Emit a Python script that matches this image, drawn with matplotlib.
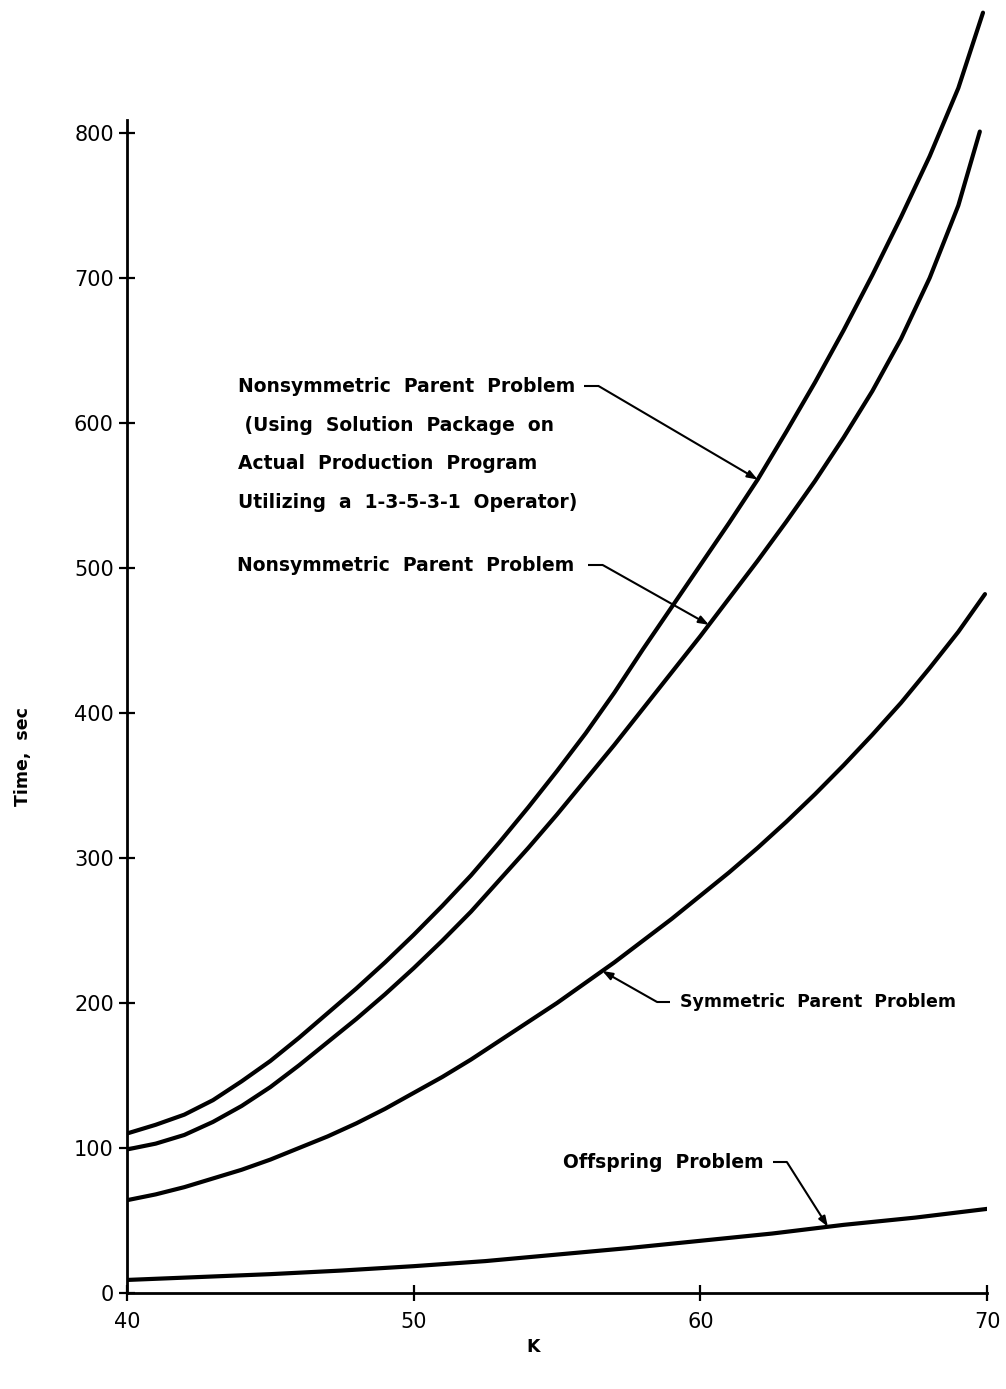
import numpy as np
import matplotlib
matplotlib.use("Agg")
import matplotlib.pyplot as plt

# values (K vs time in seconds)
k_prod = [40, 41, 42, 43, 44, 45, 46, 47, 48, 49, 50, 51, 52, 53, 54, 55,
          56, 57, 58, 59, 60, 61, 62, 63, 64, 65, 66, 67, 68, 69, 69.86]
t_prod = [110, 116, 123, 133, 146, 160, 176, 193, 210, 228, 247, 267, 288, 311, 335, 360,
          386, 414, 444, 473, 502, 531, 561, 594, 628, 664, 702, 742, 784, 831, 883]

k_nonsym = [40, 41, 42, 43, 44, 45, 46, 47, 48, 49, 50, 51, 52, 53, 54, 55,
            56, 57, 58, 59, 60, 61, 62, 63, 64, 65, 66, 67, 68, 69, 69.75]
t_nonsym = [99, 103, 109, 118, 129, 142, 157, 173, 189, 206, 224, 243, 263, 285, 307, 330,
            354, 378, 403, 428, 453, 479, 505, 532, 560, 590, 622, 658, 700, 750, 801]

k_sym = [40, 41, 42, 43, 44, 45, 46, 47, 48, 49, 50, 51, 52, 53, 54, 55,
         56, 57, 58, 59, 60, 61, 62, 63, 64, 65, 66, 67, 68, 69, 69.93]
t_sym = [64, 68, 73, 79, 85, 92, 100, 108, 117, 127, 138, 149, 161, 174, 187, 200,
         214, 228, 243, 258, 274, 290, 307, 325, 344, 364, 385, 407, 431, 456, 482]

k_off = [40, 42.5, 45, 47.5, 50, 52.5, 55, 57.5, 60, 62.5, 65, 67.5, 70]
t_off = [9, 11, 13, 15.5, 18.5, 22, 26.5, 31, 36, 41, 47, 52, 58]

x_ticks = [40, 50, 60, 70]
y_ticks = [0, 100, 200, 300, 400, 500, 600, 700, 800]

block_lines = ["Nonsymmetric  Parent  Problem", " (Using  Solution  Package  on",
               "Actual  Production  Program", "Utilizing  a  1-3-5-3-1  Operator)"]


def lbl(size):
    return dict(fontsize=size, fontweight="bold", family="DejaVu Sans")


def leader(ax, text_end, dash_len, k_tip, ks, ts, direction=1):
    """horizontal dash leaving the label, then a diagonal arrow onto the curve"""
    x0, y0 = text_end
    x1 = x0 + direction * dash_len
    ax.plot([x0, x1], [y0, y0], color="black", lw=1.5, solid_capstyle="butt")
    tip = (k_tip, float(np.interp(k_tip, ks, ts)))
    ax.annotate("", xy=tip, xytext=(x1, y0),
                arrowprops=dict(arrowstyle="-|>,head_length=0.6,head_width=0.22",
                                color="black", lw=1.5, shrinkA=0, shrinkB=0))


def main():
    fig = plt.figure(figsize=(10.06, 13.89), dpi=100)
    ax = fig.add_axes([127 / 1006, 1 - 1293 / 1389, 860 / 1006, 1293 / 1389])

    for ks, ts in [(k_prod, t_prod), (k_nonsym, t_nonsym), (k_sym, t_sym), (k_off, t_off)]:
        ax.plot(ks, ts, color="black", lw=3.0, solid_capstyle="round", solid_joinstyle="round")

    ax.set_xlim(40, 70)
    ax.set_ylim(0, 1293 / 1.45)
    for s in ("top", "right"):
        ax.spines[s].set_visible(False)
    ax.spines["left"].set_bounds(0, 809)
    ax.spines["left"].set_linewidth(2.0)
    ax.spines["bottom"].set_linewidth(2.0)

    ax.set_xticks(x_ticks)
    ax.set_yticks(y_ticks)
    ax.tick_params(direction="inout", length=11, width=1.6, labelsize=15)
    ax.tick_params(axis="y", pad=4)
    ax.tick_params(axis="x", pad=8)

    fig.text(0.023, 1 - 757 / 1389, "Time,  sec", rotation=90, ha="center", va="center",
             **lbl(12.5))
    fig.text(533 / 1006, 1 - 1347 / 1389, "K", ha="center", va="center", **lbl(12.5))

    # production program label block
    for i, s in enumerate(block_lines):
        ax.text(43.87, 625 - i * 26.6, s, ha="left", va="center", **lbl(13.5))
    leader(ax, (55.95, 625.5), 0.5, 62.0, k_prod, t_prod)

    ax.text(43.84, 502, "Nonsymmetric  Parent  Problem", ha="left", va="center", **lbl(13.5))
    leader(ax, (56.08, 502), 0.52, 60.3, k_nonsym, t_nonsym)

    ax.text(59.29, 200.7, "Symmetric  Parent  Problem", ha="left", va="center", **lbl(12.5))
    leader(ax, (58.94, 200.7), 0.45, 56.58, k_sym, t_sym, direction=-1)

    ax.text(55.21, 90.3, "Offspring  Problem", ha="left", va="center", **lbl(13.5))
    leader(ax, (62.53, 90.3), 0.49, 64.45, k_off, t_off)

    fig.savefig("out.png", dpi=100)
    plt.close(fig)


if __name__ == "__main__":
    main()
